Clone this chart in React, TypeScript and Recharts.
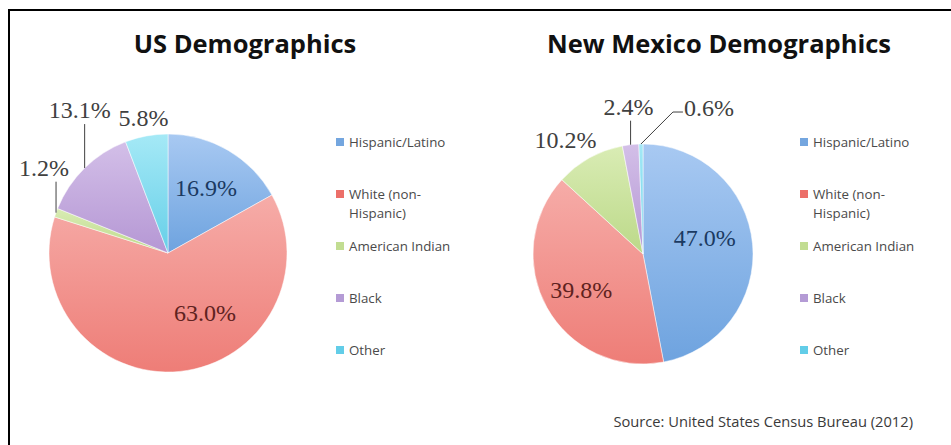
import React from 'react';
import { PieChart, Pie, Cell, Legend } from 'recharts';

const CATEGORIES = ['Hispanic/Latino', 'White (non-Hispanic)', 'American Indian', 'Black', 'Other'];
const US_VALUES = [16.9, 63.0, 1.2, 13.1, 5.8];
const NM_VALUES = [47.0, 39.8, 10.2, 2.4, 0.6];
const US_TITLE = 'US Demographics';
const NM_TITLE = 'New Mexico Demographics';
const SOURCE = 'Source: United States Census Bureau (2012)';

const GRAD_TOP = ['#a8c9f2', '#f6aca8', '#d9ecb4', '#d3bfe8', '#a5e9f6'];
const GRAD_BOTTOM = ['#6ea3df', '#ee7d77', '#bcd989', '#b597d4', '#66cfe8'];
const LEGEND_COLORS = ['#74a6df', '#ec6f69', '#c2dd92', '#b49bd5', '#62cde8'];
const INNER_TEXT = ['#1b3a62', '#5f2220'];
const OUTER_TEXT = '#404040';

const usData = CATEGORIES.map((name, i) => ({ name, value: US_VALUES[i] }));
const nmData = CATEGORIES.map((name, i) => ({ name, value: NM_VALUES[i] }));

type LabelCfg =
  | { mode: 'in'; r: number; shift: number }
  | { mode: 'out'; dx: number; rise: number; line: 'none' | 'v' | 'elbow' };

const US_LABELS: LabelCfg[] = [
  { mode: 'in', r: 0.63, shift: 0 },
  { mode: 'in', r: 0.59, shift: 26 },
  { mode: 'out', dx: -12, rise: 45, line: 'v' },
  { mode: 'out', dx: -5, rise: 58, line: 'v' },
  { mode: 'out', dx: -3, rise: 18, line: 'none' },
];
const NM_LABELS: LabelCfg[] = [
  { mode: 'in', r: 0.58, shift: 9 },
  { mode: 'in', r: 0.65, shift: 1 },
  { mode: 'out', dx: -24, rise: 18, line: 'none' },
  { mode: 'out', dx: -2, rise: 38, line: 'v' },
  { mode: 'out', dx: 68, rise: 36, line: 'elbow' },
];

const RAD = Math.PI / 180;
const LABEL_FONT = '"Liberation Serif", serif';
const SANS = '"Open Sans", sans-serif';

const makeLabel = (layout: LabelCfg[]) => (props: any) => {
  const { cx, cy, midAngle, outerRadius, index, value } = props;
  const cfg = layout[index];
  const text = `${Number(value).toFixed(1)}%`;
  if (cfg.mode === 'in') {
    const a = (midAngle + cfg.shift) * RAD;
    const x = cx + outerRadius * cfg.r * Math.cos(a);
    const y = cy - outerRadius * cfg.r * Math.sin(a);
    return (
      <text x={x} y={y} textAnchor="middle" dominantBaseline="central" fontFamily={LABEL_FONT} fontSize={24} fill={INNER_TEXT[index]}>
        {text}
      </text>
    );
  }
  const a = midAngle * RAD;
  const ex = cx + outerRadius * Math.cos(a);
  const ey = cy - outerRadius * Math.sin(a);
  const lx = ex + cfg.dx;
  const ly = ey - cfg.rise;
  let line: React.ReactNode = null;
  if (cfg.line === 'v') {
    line = <polyline points={`${ex},${ey} ${ex},${ly + 14}`} stroke="#404040" strokeWidth={1} fill="none" />;
  } else if (cfg.line === 'elbow') {
    line = (
      <polyline
        points={`${ex},${ey} ${ex + 32},${ly + 4} ${lx - 26},${ly + 4}`}
        stroke="#404040"
        strokeWidth={1}
        fill="none"
      />
    );
  }
  return (
    <g>
      {line}
      <text x={lx} y={ly} textAnchor="middle" dominantBaseline="central" fontFamily={LABEL_FONT} fontSize={24} fill={OUTER_TEXT}>
        {text}
      </text>
    </g>
  );
};

const LegendContent = () => (
  <div style={{ position: 'relative', width: 150, height: 240 }}>
    {CATEGORIES.map((name, i) => (
      <div key={name} style={{ position: 'absolute', left: 0, top: i * 52, display: 'flex', alignItems: 'flex-start' }}>
        <span style={{ width: 8, height: 8, background: LEGEND_COLORS[i], marginTop: 5.5, marginRight: 5, flex: 'none' }} />
        <span style={{ width: 115, lineHeight: '19px', fontSize: 13.3, fontFamily: SANS, color: '#4a4a4a' }}>{name}</span>
      </div>
    ))}
  </div>
);

const Gradients = ({ prefix }: { prefix: string }) => (
  <defs>
    {GRAD_TOP.map((c, i) => (
      <linearGradient key={i} id={`${prefix}${i}`} x1="0" y1="0" x2="0" y2="1">
        <stop offset="0%" stopColor={c} />
        <stop offset="100%" stopColor={GRAD_BOTTOM[i]} />
      </linearGradient>
    ))}
  </defs>
);

export default function App() {
  return (
    <div style={{ position: 'absolute', left: 0, top: 0, width: 951, height: 445, background: '#fff', overflow: 'hidden' }}>
      <div
        style={{
          position: 'absolute',
          left: 8,
          top: 9,
          width: 951 - 8,
          height: 445 - 9,
          borderTop: '2px solid #000',
          borderLeft: '2px solid #000',
          boxSizing: 'border-box',
        }}
      />
      <div style={{ position: 'absolute', left: 0, top: 0 }}>
        <PieChart width={480} height={445} margin={{ top: 0, right: 0, bottom: 0, left: 0 }}>
          <Gradients prefix="usg" />
          <text x={245} y={43} textAnchor="middle" dominantBaseline="central" fontFamily={SANS} fontWeight={700} fontSize={25.5} fill="#111">
            {US_TITLE}
          </text>
          <Pie
            data={usData}
            dataKey="value"
            nameKey="name"
            cx={168}
            cy={253}
            outerRadius={119}
            startAngle={90}
            endAngle={-270}
            stroke="#ffffff"
            strokeWidth={0.5}
            label={makeLabel(US_LABELS)}
            labelLine={false}
            isAnimationActive={false}
          >
            {usData.map((d, i) => (
              <Cell key={d.name} fill={`url(#usg${i})`} />
            ))}
          </Pie>
          <Legend
            layout="vertical"
            align="right"
            verticalAlign="top"
            content={LegendContent}
            wrapperStyle={{ left: 336, top: 132.5, width: 150, height: 240 }}
          />
        </PieChart>
      </div>
      <div style={{ position: 'absolute', left: 480, top: 0 }}>
        <PieChart width={471} height={445} margin={{ top: 0, right: 0, bottom: 0, left: 0 }}>
          <Gradients prefix="nmg" />
          <text x={239} y={43} textAnchor="middle" dominantBaseline="central" fontFamily={SANS} fontWeight={700} fontSize={25.5} fill="#111">
            {NM_TITLE}
          </text>
          <text x={433} y={421} textAnchor="end" dominantBaseline="central" fontFamily={SANS} fontSize={14.7} fill="#3a3a3a">
            {SOURCE}
          </text>
          <Pie
            data={nmData}
            dataKey="value"
            nameKey="name"
            cx={163}
            cy={254}
            outerRadius={110}
            startAngle={90}
            endAngle={-270}
            stroke="#ffffff"
            strokeWidth={0.5}
            label={makeLabel(NM_LABELS)}
            labelLine={false}
            isAnimationActive={false}
          >
            {nmData.map((d, i) => (
              <Cell key={d.name} fill={`url(#nmg${i})`} />
            ))}
          </Pie>
          <Legend
            layout="vertical"
            align="right"
            verticalAlign="top"
            content={LegendContent}
            wrapperStyle={{ left: 320, top: 132.5, width: 150, height: 240 }}
          />
        </PieChart>
      </div>
    </div>
  );
}
